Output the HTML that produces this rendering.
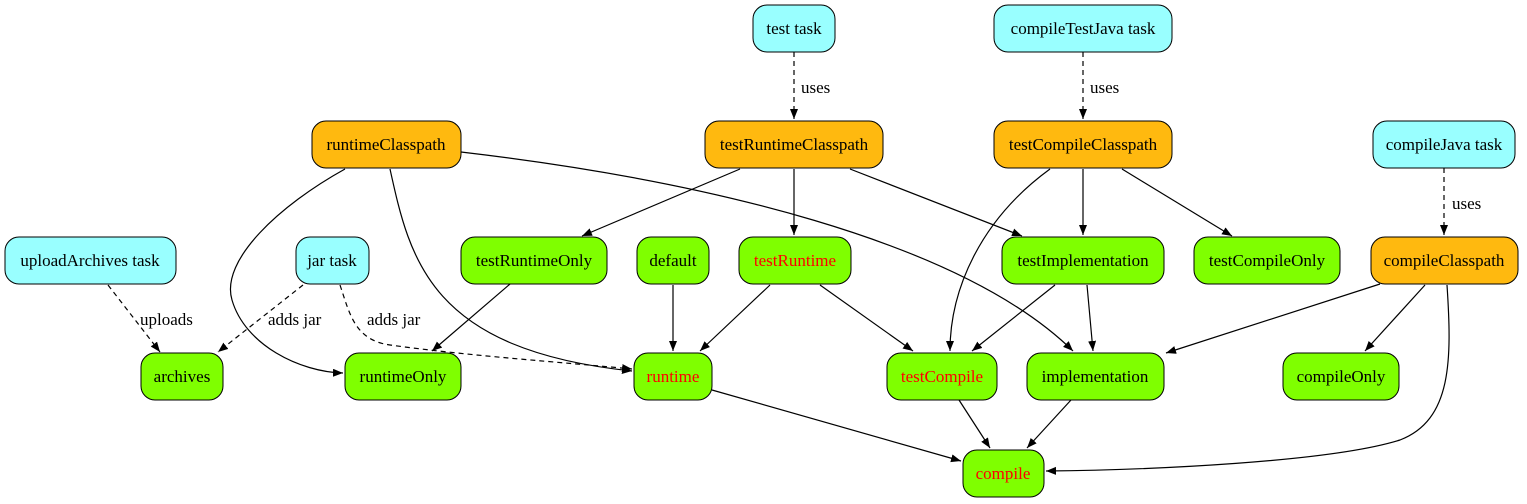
<!DOCTYPE html>
<html><head><meta charset="utf-8"><style>
html,body{margin:0;padding:0;background:#fff;}
svg{display:block;}
text{font-family:"Liberation Serif",serif;font-size:17px;}
</style></head><body>
<svg width="1527" height="504" viewBox="0 0 1527 504" xmlns="http://www.w3.org/2000/svg">
<defs>
<marker id="a" markerUnits="userSpaceOnUse" markerWidth="12" markerHeight="10" refX="10" refY="4" orient="auto">
<path d="M0,0 L10,4 L0,8 Z" fill="#000"/>
</marker>
</defs>
<g fill="none" stroke="#000" stroke-width="1.2" marker-end="url(#a)">
<path d="M794,52 L794,119" stroke-dasharray="5,4"/>
<path d="M1083,52 L1083,119" stroke-dasharray="5,4"/>
<path d="M1444,168 L1444,235" stroke-dasharray="5,4"/>
<path d="M345,169 C280,205 220,260 232,300 C245,345 300,372 343,373"/>
<path d="M390,169 C410,260 430,350 632,371"/>
<path d="M461,152 C700,180 960,240 1073,351"/>
<path d="M740,169 L582,236"/>
<path d="M794,169 L794,235"/>
<path d="M850,169 L1022,236"/>
<path d="M1050,169 C980,220 950,290 950,351"/>
<path d="M1083,169 L1083,235"/>
<path d="M1122,169 L1232,236"/>
<path d="M108,285 L160,352" stroke-dasharray="5,4"/>
<path d="M303,285 L218,352" stroke-dasharray="5,4"/>
<path d="M340,285 C350,315 355,340 390,345 C470,356 560,362 632,369" stroke-dasharray="5,4"/>
<path d="M510,284 L432,351"/>
<path d="M673,285 L673,351"/>
<path d="M770,285 L700,351"/>
<path d="M820,285 L913,351"/>
<path d="M1055,285 L972,351"/>
<path d="M1087,285 L1093,351"/>
<path d="M1380,284 L1166,353"/>
<path d="M1425,285 L1365,351"/>
<path d="M1447,285 C1452,360 1452,420 1400,440 C1330,462 1150,470 1046,471"/>
<path d="M712,390 L961,461"/>
<path d="M959,400 L990,448"/>
<path d="M1071,400 L1027,448"/>
</g>
<g>
<text x="801" y="93">uses</text>
<text x="1090" y="93">uses</text>
<text x="1452" y="209">uses</text>
<text x="140" y="325">uploads</text>
<text x="268" y="325">adds jar</text>
<text x="367" y="325">adds jar</text>
</g>
<g stroke="#000" stroke-width="1">
<rect x="753" y="5" width="82" height="47" rx="14" fill="#99FFFF"/>
<rect x="994" y="5" width="178" height="47" rx="14" fill="#99FFFF"/>
<rect x="312" y="121" width="149" height="47" rx="14" fill="#FFB90F"/>
<rect x="705" y="121" width="178" height="47" rx="14" fill="#FFB90F"/>
<rect x="994" y="121" width="178" height="47" rx="14" fill="#FFB90F"/>
<rect x="1373" y="121" width="142" height="47" rx="14" fill="#99FFFF"/>
<rect x="5" y="237" width="171" height="47" rx="14" fill="#99FFFF"/>
<rect x="296" y="237" width="73" height="47" rx="14" fill="#99FFFF"/>
<rect x="461" y="237" width="146" height="47" rx="14" fill="#7FFF00"/>
<rect x="637" y="237" width="72" height="47" rx="14" fill="#7FFF00"/>
<rect x="739" y="237" width="112" height="47" rx="14" fill="#7FFF00"/>
<rect x="1002" y="237" width="162" height="47" rx="14" fill="#7FFF00"/>
<rect x="1194" y="237" width="146" height="47" rx="14" fill="#7FFF00"/>
<rect x="1371" y="237" width="147" height="47" rx="14" fill="#FFB90F"/>
<rect x="141" y="353" width="82" height="47" rx="14" fill="#7FFF00"/>
<rect x="345" y="353" width="116" height="47" rx="14" fill="#7FFF00"/>
<rect x="634" y="353" width="78" height="47" rx="14" fill="#7FFF00"/>
<rect x="887" y="353" width="110" height="47" rx="14" fill="#7FFF00"/>
<rect x="1027" y="353" width="137" height="47" rx="14" fill="#7FFF00"/>
<rect x="1283" y="353" width="116" height="47" rx="14" fill="#7FFF00"/>
<rect x="963" y="450" width="81" height="47" rx="14" fill="#7FFF00"/>
</g>
<g text-anchor="middle">
<text x="794" y="34">test task</text>
<text x="1083" y="34">compileTestJava task</text>
<text x="386" y="150">runtimeClasspath</text>
<text x="794" y="150">testRuntimeClasspath</text>
<text x="1083" y="150">testCompileClasspath</text>
<text x="1444" y="150">compileJava task</text>
<text x="90" y="266">uploadArchives task</text>
<text x="332" y="266">jar task</text>
<text x="534" y="266">testRuntimeOnly</text>
<text x="673" y="266">default</text>
<text x="795" y="266" fill="#FF0000">testRuntime</text>
<text x="1083" y="266">testImplementation</text>
<text x="1267" y="266">testCompileOnly</text>
<text x="1444" y="266">compileClasspath</text>
<text x="182" y="382">archives</text>
<text x="403" y="382">runtimeOnly</text>
<text x="673" y="382" fill="#FF0000">runtime</text>
<text x="942" y="382" fill="#FF0000">testCompile</text>
<text x="1095" y="382">implementation</text>
<text x="1341" y="382">compileOnly</text>
<text x="1003" y="479" fill="#FF0000">compile</text>
</g>
</svg>
</body></html>
